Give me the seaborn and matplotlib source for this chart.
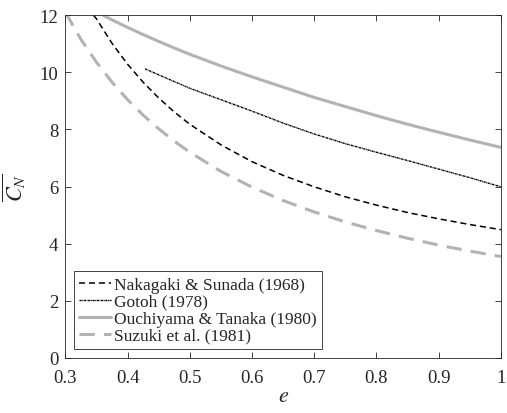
import matplotlib
matplotlib.use("Agg")
import matplotlib.pyplot as plt
import seaborn as sns
import pandas as pd

# ---- data ----
e_nak = [0.345, 0.35, 0.375, 0.40, 0.425, 0.45, 0.475, 0.50, 0.55, 0.60, 0.65, 0.70,
         0.75, 0.80, 0.85, 0.90, 0.95, 1.00]
c_nak = [12.0, 11.87, 11.01, 10.28, 9.65, 9.10, 8.61, 8.18, 7.46, 6.87, 6.39, 5.99,
         5.64, 5.35, 5.09, 4.87, 4.67, 4.49]

e_got = [0.428, 0.45, 0.50, 0.55, 0.60, 0.65, 0.70, 0.75, 0.80, 0.85, 0.90, 0.95, 1.00]
c_got = [10.12, 9.91, 9.44, 9.04, 8.64, 8.22, 7.84, 7.50, 7.20, 6.91, 6.61, 6.31, 5.99]

e_ouc = [0.36, 0.38, 0.40, 0.425, 0.45, 0.475, 0.50, 0.55, 0.60, 0.65, 0.70, 0.75,
         0.80, 0.85, 0.90, 0.95, 1.00]
c_ouc = [12.0, 11.78, 11.57, 11.32, 11.08, 10.85, 10.63, 10.22, 9.84, 9.48, 9.12,
         8.80, 8.48, 8.18, 7.90, 7.63, 7.37]

e_suz = [0.30, 0.325, 0.35, 0.375, 0.40, 0.425, 0.45, 0.475, 0.50, 0.55, 0.60, 0.65,
         0.70, 0.75, 0.80, 0.85, 0.90, 0.95, 1.00]
c_suz = [12.1, 11.15, 10.35, 9.65, 9.04, 8.50, 8.02, 7.59, 7.20, 6.53, 5.98, 5.51,
         5.11, 4.76, 4.46, 4.19, 3.95, 3.74, 3.55]

labels = ["Nakagaki & Sunada (1968)", "Gotoh (1978)",
          "Ouchiyama & Tanaka (1980)", "Suzuki et al. (1981)"]
x_ticks = [0.3, 0.4, 0.5, 0.6, 0.7, 0.8, 0.9, 1.0]
x_ticklabels = ["0.3", "0.4", "0.5", "0.6", "0.7", "0.8", "0.9", "1"]
y_ticks = [0, 2, 4, 6, 8, 10, 12]

sns.set_theme(style="white")
plt.rcParams["font.family"] = ["Liberation Serif", "DejaVu Serif"]
plt.rcParams["mathtext.fontset"] = "stix"

fig = plt.figure(figsize=(5.07, 4.14), dpi=100)
ax = fig.add_axes([0.129, 0.133, 0.859, 0.828])

series = [
    (e_nak, c_nak, labels[0], dict(color="black", lw=1.1, linestyle=(0, (4, 2.5)))),
    (e_got, c_got, labels[1], dict(color="black", lw=1.0, linestyle=(0, (1.6, 0.45, 0.6, 0.45)))),
    (e_ouc, c_ouc, labels[2], dict(color="#b3b3b3", lw=2.2, linestyle="-")),
    (e_suz, c_suz, labels[3], dict(color="#b3b3b3", lw=2.2, linestyle=(0, (5, 3)))),
]
for ex, cy, lab, st in series:
    df = pd.DataFrame({"e": ex, "C": cy})
    sns.lineplot(data=df, x="e", y="C", ax=ax, label=lab, sort=False,
                 estimator=None, **st)

ax.set_xlim(0.3, 1.0)
ax.set_ylim(0, 12)
ax.set_xticks(x_ticks)
ax.set_xticklabels(x_ticklabels)
ax.set_yticks(y_ticks)
ax.tick_params(direction="in", length=4, width=0.6, color="#262626",
               labelsize=13.5, labelcolor="#262626", top=True, right=True,
               bottom=True, left=True)
ax.tick_params(axis="x", pad=8)
ax.tick_params(axis="y", pad=5)
for s in ax.spines.values():
    s.set_color("#262626")
    s.set_linewidth(0.6)
ax.set_xlabel(r"$e$", fontsize=16, color="#262626", labelpad=1)
ax.set_ylabel(r"$\overline{C_N}$", fontsize=16, color="#262626", labelpad=8)

leg = ax.legend(loc="lower left", bbox_to_anchor=(0.02, 0.026), borderaxespad=0,
                fontsize=12.5, handlelength=1.8, handletextpad=0.2,
                labelspacing=0.05, borderpad=0.3, fancybox=False, framealpha=1,
                edgecolor="#262626")
leg.get_frame().set_linewidth(0.6)
for t in leg.get_texts():
    t.set_color("#262626")

fig.savefig("out.png", dpi=100)
